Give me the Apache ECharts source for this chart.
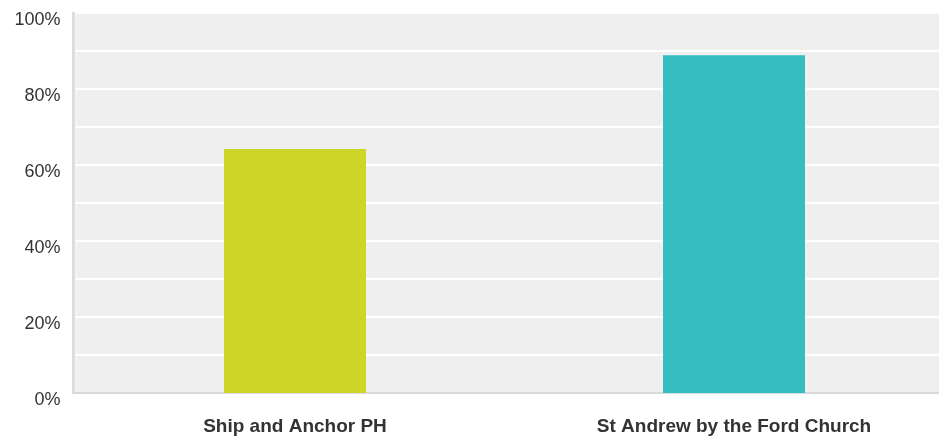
<!DOCTYPE html>
<html>
<head>
<meta charset="utf-8">
<script src="https://cdn.jsdelivr.net/npm/echarts@6/dist/echarts.min.js"></script>
<style>
html,body{margin:0;padding:0;background:#fff;}
#main{width:939px;height:436px;}
</style>
</head>
<body>
<div id="main"></div>
<script>
// data
var categories = ['Ship and Anchor PH', 'St Andrew by the Ford Church'];
var values = [64.2, 88.9];
var barColors = ['#cfd62a', '#35bdbf'];

var myChart = echarts.init(document.getElementById('main'));
var option = {
	animation: false,
	grid: {
		left: 75.5,
		top: 13,
		width: 878,
		bottom: 43,
		outerBoundsMode: 'none',
		containLabel: false,
		show: true,
		backgroundColor: '#efefef',
		borderWidth: 0
	},
	xAxis: {
		type: 'category',
		data: categories,
		axisLine: {show: true, lineStyle: {color: '#d9d9d9', width: 2}},
		axisTick: {show: false},
		axisLabel: {
			color: '#333',
			fontSize: 19,
			fontWeight: 'bold',
			fontFamily: 'Liberation Sans, Arial, sans-serif',
			margin: 24
		}
	},
	yAxis: {
		type: 'value',
		min: 0,
		max: 100,
		interval: 10,
		offset: 2,
		axisLine: {show: true, lineStyle: {color: '#dcdcdc', width: 3}},
		axisTick: {show: false},
		splitLine: {lineStyle: {color: '#ffffff', width: 2}},
		axisLabel: {
			color: '#333',
			fontSize: 18,
			fontFamily: 'Liberation Sans, Arial, sans-serif',
			margin: 13,
			verticalAlign: 'top',
			lineHeight: 14,
			formatter: function(v){
				return v % 20 === 0 ? v + '%' : '';
			}
		}
	},
	series: [{
		type: 'bar',
		barWidth: 142,
		data: values.map(function(v, i){
			return {value: v, itemStyle: {color: barColors[i]}};
		})
	}]
};
myChart.setOption(option);
</script>
</body>
</html>
